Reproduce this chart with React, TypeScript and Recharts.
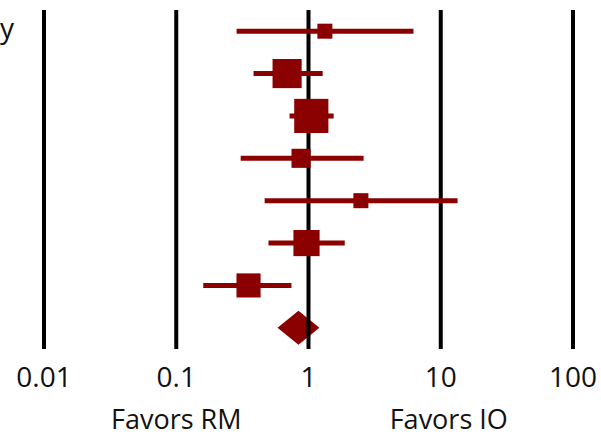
import React from "react";
import {
  ComposedChart,
  XAxis,
  YAxis,
  Scatter,
  ReferenceLine,
  ReferenceArea,
} from "recharts";

// Study rows (1 = top)
const rows = [1, 2, 3, 4, 5, 6, 7];
const estimates = [1.33, 0.689, 1.05, 0.878, 2.49, 0.966, 0.352];
const lowerCI = [0.286, 0.384, 0.719, 0.307, 0.466, 0.498, 0.16];
const upperCI = [6.22, 1.28, 1.55, 2.61, 13.4, 1.88, 0.743];
const weights = [5.5, 20.7, 28.5, 8.9, 5.5, 16.7, 14.2]; // % weight

// Pooled estimate
const pooledRow = 8;
const pooledLower = 0.583;
const pooledUpper = 1.21;

const xTicks = [0.01, 0.1, 1, 10, 100];
const xTickLabels = ["0.01", "0.1", "1", "10", "100"];
const favorTicks = [0.1, 10];
const favorLabels = ["Favors RM", "Favors IO"];
const rowLabel = "y";

const RED = "#8B0000";
const FONT = "'Open Sans', 'Noto Sans', sans-serif";

const studyData = rows.map((r, i) => ({
  row: r,
  est: estimates[i],
  lo: lowerCI[i],
  hi: upperCI[i],
  w: weights[i],
}));

const SquareShape = (p: any) => {
  const side = Math.sqrt(p.payload.w) * 6.4;
  return (
    <rect
      x={p.cx - side / 2}
      y={p.cy - side / 2}
      width={side}
      height={side}
      fill={RED}
    />
  );
};

const DiamondShape = (p: any) => {
  const { x, y, width, height } = p;
  const cx = x + width / 2;
  const cy = y + height / 2;
  const pts = `${x},${cy} ${cx},${y} ${x + width},${cy} ${cx},${y + height}`;
  return <polygon points={pts} fill={RED} />;
};

const Tick = (p: any) => {
  const idx = xTicks.indexOf(p.payload.value);
  return (
    <text
      x={p.x}
      y={387}
      textAnchor="middle"
      fontFamily={FONT}
      fontSize={28}
      fill="#111"
    >
      {idx >= 0 ? xTickLabels[idx] : String(p.payload.value)}
    </text>
  );
};

const FavorTick = (p: any) => {
  const idx = favorTicks.indexOf(p.payload.value);
  return (
    <text
      x={p.x + (idx === 1 ? 8 : 0)}
      y={429}
      textAnchor="middle"
      fontFamily={FONT}
      fontSize={27}
      fill="#111"
    >
      {idx >= 0 ? favorLabels[idx] : ""}
    </text>
  );
};

export default function App() {
  return (
    <div style={{ position: "absolute", left: 0, top: 0, width: 601, height: 437 }}>
      <ComposedChart
        width={601}
        height={437}
        margin={{ top: 10, right: 28, left: 44, bottom: 28 }}
      >
        <XAxis
          xAxisId="main"
          type="number"
          dataKey="est"
          scale="log"
          domain={[0.01, 100]}
          ticks={xTicks}
          allowDataOverflow
          axisLine={false}
          tickLine={false}
          height={30}
          tick={Tick}
          interval={0}
        />
        <XAxis
          xAxisId="fav"
          type="number"
          dataKey="est"
          scale="log"
          domain={[0.01, 100]}
          ticks={favorTicks}
          allowDataOverflow
          axisLine={false}
          tickLine={false}
          height={30}
          tick={FavorTick}
          interval={0}
        />
        <YAxis
          type="number"
          dataKey="row"
          domain={[0.5, 8.5]}
          reversed
          hide
        />
        {xTicks.map((t) => (
          <ReferenceLine
            key={"v" + t}
            xAxisId="main"
            x={t}
            stroke="#000"
            strokeWidth={4}
            ifOverflow="visible"
          />
        ))}
        {studyData.map((d) => (
          <ReferenceLine
            key={"ci" + d.row}
            xAxisId="main"
            segment={[
              { x: d.lo, y: d.row },
              { x: d.hi, y: d.row },
            ]}
            stroke={RED}
            strokeWidth={5}
            ifOverflow="visible"
          />
        ))}
        <ReferenceArea
          xAxisId="main"
          x1={pooledLower}
          x2={pooledUpper}
          y1={pooledRow - 0.4}
          y2={pooledRow + 0.4}
          shape={DiamondShape}
          ifOverflow="visible"
        />
        <Scatter
          xAxisId="main"
          data={studyData}
          dataKey="row"
          shape={SquareShape}
          isAnimationActive={false}
        />
      </ComposedChart>
      <svg
        width={601}
        height={437}
        style={{ position: "absolute", left: 0, top: 0, pointerEvents: "none" }}
      >
        <text x={0} y={38} fontFamily={FONT} fontSize={28} fill="#111">
          {rowLabel}
        </text>
      </svg>
    </div>
  );
}
